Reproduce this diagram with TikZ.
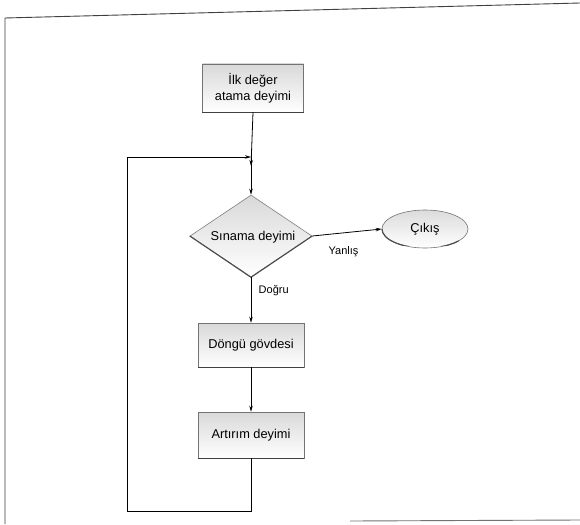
\documentclass[tikz,border=0pt]{standalone}
\usepackage{fontspec}
\setmainfont{Liberation Sans}
\usetikzlibrary{shapes.geometric,arrows.meta}

\begin{document}
\begin{tikzpicture}[x=1pt,y=-1pt,
  txt/.style={font=\fontsize{12.8}{16}\selectfont, align=center},
  stepbox/.style={txt, rectangle, draw=black!55, line width=0.5pt,
    top color=black!15, middle color=white, bottom color=white, inner sep=0pt},
  testbox/.style={txt, diamond, draw=black!50, line width=0.6pt,
    top color=black!15, middle color=white, bottom color=white, inner sep=0pt},
  endbox/.style={txt, ellipse, draw=black!55, line width=0.6pt,
    top color=black!14, middle color=white, bottom color=white, inner sep=0pt},
  flow/.style={line width=0.8pt, -{Stealth[length=6pt,width=3.5pt]}},
  plain/.style={line width=0.8pt},
  shadowline/.style={line width=1.4pt, black!75},
  lbl/.style={font=\fontsize{11}{13}\selectfont},
  frame/.style={line width=0.9pt, black!75}]

  \useasboundingbox (0,0) rectangle (580,524);
  \fill[white] (0,0) rectangle (580,524);

  % outer frame of the figure
  \coordinate (fbl) at (5,524);
  \coordinate (ftl) at (5,18);
  \coordinate (ftr) at (580,3);
  \coordinate (fbr) at (580,520);
  \coordinate (fbm) at (350,521);
  \draw[frame] (fbl) -- (ftl) -- (ftr);
  \draw[frame, black!55] (fbm) -- (fbr);

  % flowchart nodes
  \node[stepbox, minimum width=101pt, minimum height=48pt] (init) at (253,88)
    {İlk değer\\atama deyimi};
  \node[testbox, minimum width=122pt, minimum height=82pt] (test) at (251,236) {};
  \node[txt] (testtxt) at (253,237) {Sınama deyimi};
  \node[endbox, minimum width=86pt, minimum height=38pt] (exit) at (425,229) {Çıkış};
  \node[stepbox, minimum width=106pt, minimum height=44pt] (body) at (251,345)
    {Döngü gövdesi};
  \node[stepbox, minimum width=106pt, minimum height=46pt] (incr) at (251,435)
    {Artırım deyimi};

  % heavier lower edges of the shapes
  \draw[shadowline] (init.south west) -- (init.south east);
  \draw[shadowline] (body.south west) -- (body.south east);
  \draw[shadowline] (incr.south west) -- (incr.south east);
  \draw[line width=1.1pt, black!70] (test.west) -- (test.south) -- (test.east);
  \begin{scope}
    \clip ([xshift=-3pt]exit.west) rectangle ([xshift=3pt,yshift=-3pt]exit.south east);
    \draw[line width=1.2pt, black!70] (exit.center) ellipse [x radius=43pt, y radius=19pt];
  \end{scope}

  % connection points of the loop
  \coordinate (join) at (251,157);
  \coordinate (lb1) at (251,511);
  \coordinate (lb2) at (127,511);
  \coordinate (lb3) at (127,157);

  % connectors
  \draw[flow] (init.south) -- ([yshift=-9pt]join);
  \draw[flow] (join) -- (test.north);
  \draw[flow] (test.east) -- node[lbl, below=10pt, pos=0.45] (no) {Yanlış} (exit.west);
  \draw[flow] (test.south) -- node[lbl, right=4pt, pos=0.3] (yes) {Doğru} (body.north);
  \draw[flow] (body.south) -- (incr.north);
  \draw[plain] (incr.south) -- (lb1) -- (lb2) -- (lb3);
  \draw[flow] (lb3) -- (join);
\end{tikzpicture}
\end{document}
